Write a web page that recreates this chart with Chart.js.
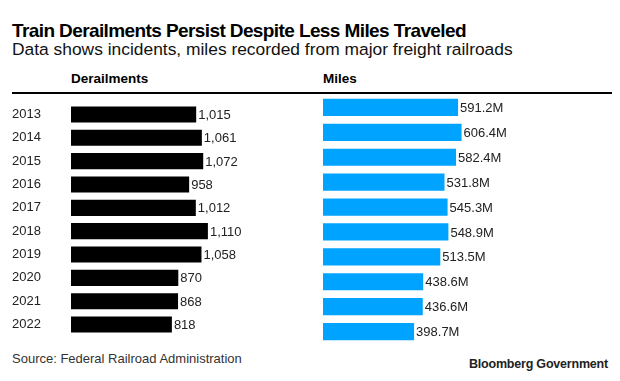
<!DOCTYPE html>
<html>
<head>
<meta charset="utf-8">
<script src="https://cdn.jsdelivr.net/npm/chart.js@4/dist/chart.umd.min.js"></script>
<style>
  body { margin: 0; background: #fff; font-family: "Liberation Sans", Arial, sans-serif; color: #000; }
  #wrap { position: relative; width: 620px; height: 381px; overflow: hidden; }
  .txt { position: absolute; white-space: nowrap; line-height: 1; }
  #title { left: 12px; top: 21px; font-size: 19px; font-weight: bold; letter-spacing: -0.6px; }
  #sub { left: 12px; top: 41px; font-size: 17.4px; color: #111; }
  .head { top: 72px; font-size: 13.5px; font-weight: bold; }
  #rule { position: absolute; left: 12px; top: 92px; width: 600px; height: 2px; background: #000; }
  #src { left: 12px; top: 352px; font-size: 13px; color: #333; }
  #brand { right: 12px; top: 358px; font-size: 12.5px; font-weight: bold; color: #222; letter-spacing: -0.2px; }
  canvas { position: absolute; }
</style>
</head>
<body>
<div id="wrap">
  <div class="txt" id="title">Train Derailments Persist Despite Less Miles Traveled</div>
  <div class="txt" id="sub">Data shows incidents, miles recorded from major freight railroads</div>
  <div class="txt head" style="left:71px">Derailments</div>
  <div class="txt head" style="left:323px">Miles</div>
  <div id="rule"></div>
  <div style="position:absolute;left:0;top:95px;width:300px;height:249px"><canvas id="derail"></canvas></div>
  <div style="position:absolute;left:323px;top:95px;width:297px;height:249px"><canvas id="miles"></canvas></div>
  <div class="txt" id="src">Source: Federal Railroad Administration</div>
  <div class="txt" id="brand">Bloomberg Government</div>
</div>
<script>
const years = ['2013', '2014', '2015', '2016', '2017', '2018', '2019', '2020', '2021', '2022'];
const derailments = [1015, 1061, 1072, 958, 1012, 1110, 1058, 870, 868, 818];
const milesTraveled = [591.2, 606.4, 582.4, 531.8, 545.3, 548.9, 513.5, 438.6, 436.6, 398.7];

// writes the value just right of each bar
const valueLabels = {
    id: 'valueLabels',
    afterDatasetsDraw(chart, args, opts) {
        const ctx = chart.ctx;
        const meta = chart.getDatasetMeta(0);
        ctx.save();
        ctx.font = '13px "Liberation Sans", Arial, sans-serif';
        ctx.fillStyle = '#222';
        ctx.textAlign = 'left';
        ctx.textBaseline = 'middle';
        meta.data.forEach((bar, i) => {
            ctx.fillText(opts.format(chart.data.datasets[0].data[i]), bar.x + 2, bar.y + 1);
        });
        ctx.restore();
    }
};

function barChart(id, values, color, max, showYears, pad, format) {
    const ctx = document.getElementById(id).getContext('2d');
    return new Chart(ctx, {
        type: 'bar',
        data: {
            labels: years,
            datasets: [{
                data: values,
                backgroundColor: color,
                borderWidth: 0,
                categoryPercentage: 1,
                barPercentage: 0.69
            }]
        },
        options: {
            indexAxis: 'y',
            responsive: true,
            maintainAspectRatio: false,
            animation: false,
            layout: { padding: pad },
            scales: {
                x: { display: false, min: 0, max: max },
                y: {
                    display: showYears,
                    grid: { display: false },
                    border: { display: false },
                    ticks: {
                        crossAlign: 'far',
                        padding: 0,
                        color: '#222',
                        font: { family: '"Liberation Sans", Arial, sans-serif', size: 13 }
                    },
                    afterFit: axis => { axis.width = showYears ? 59 : 0; }
                }
            },
            plugins: {
                legend: { display: false },
                tooltip: { enabled: false },
                valueLabels: { format: format }
            }
        },
        plugins: [valueLabels]
    });
}

barChart('derail', derailments, '#000000', 1800, true,
    { left: 12, right: 7, top: 0, bottom: 0 }, v => v.toLocaleString('en-US'));
barChart('miles', milesTraveled, '#00a3ff', 1300, false,
    { left: 0, right: 0, top: 0, bottom: 0 }, v => v.toFixed(1) + 'M');
</script>
</body>
</html>
